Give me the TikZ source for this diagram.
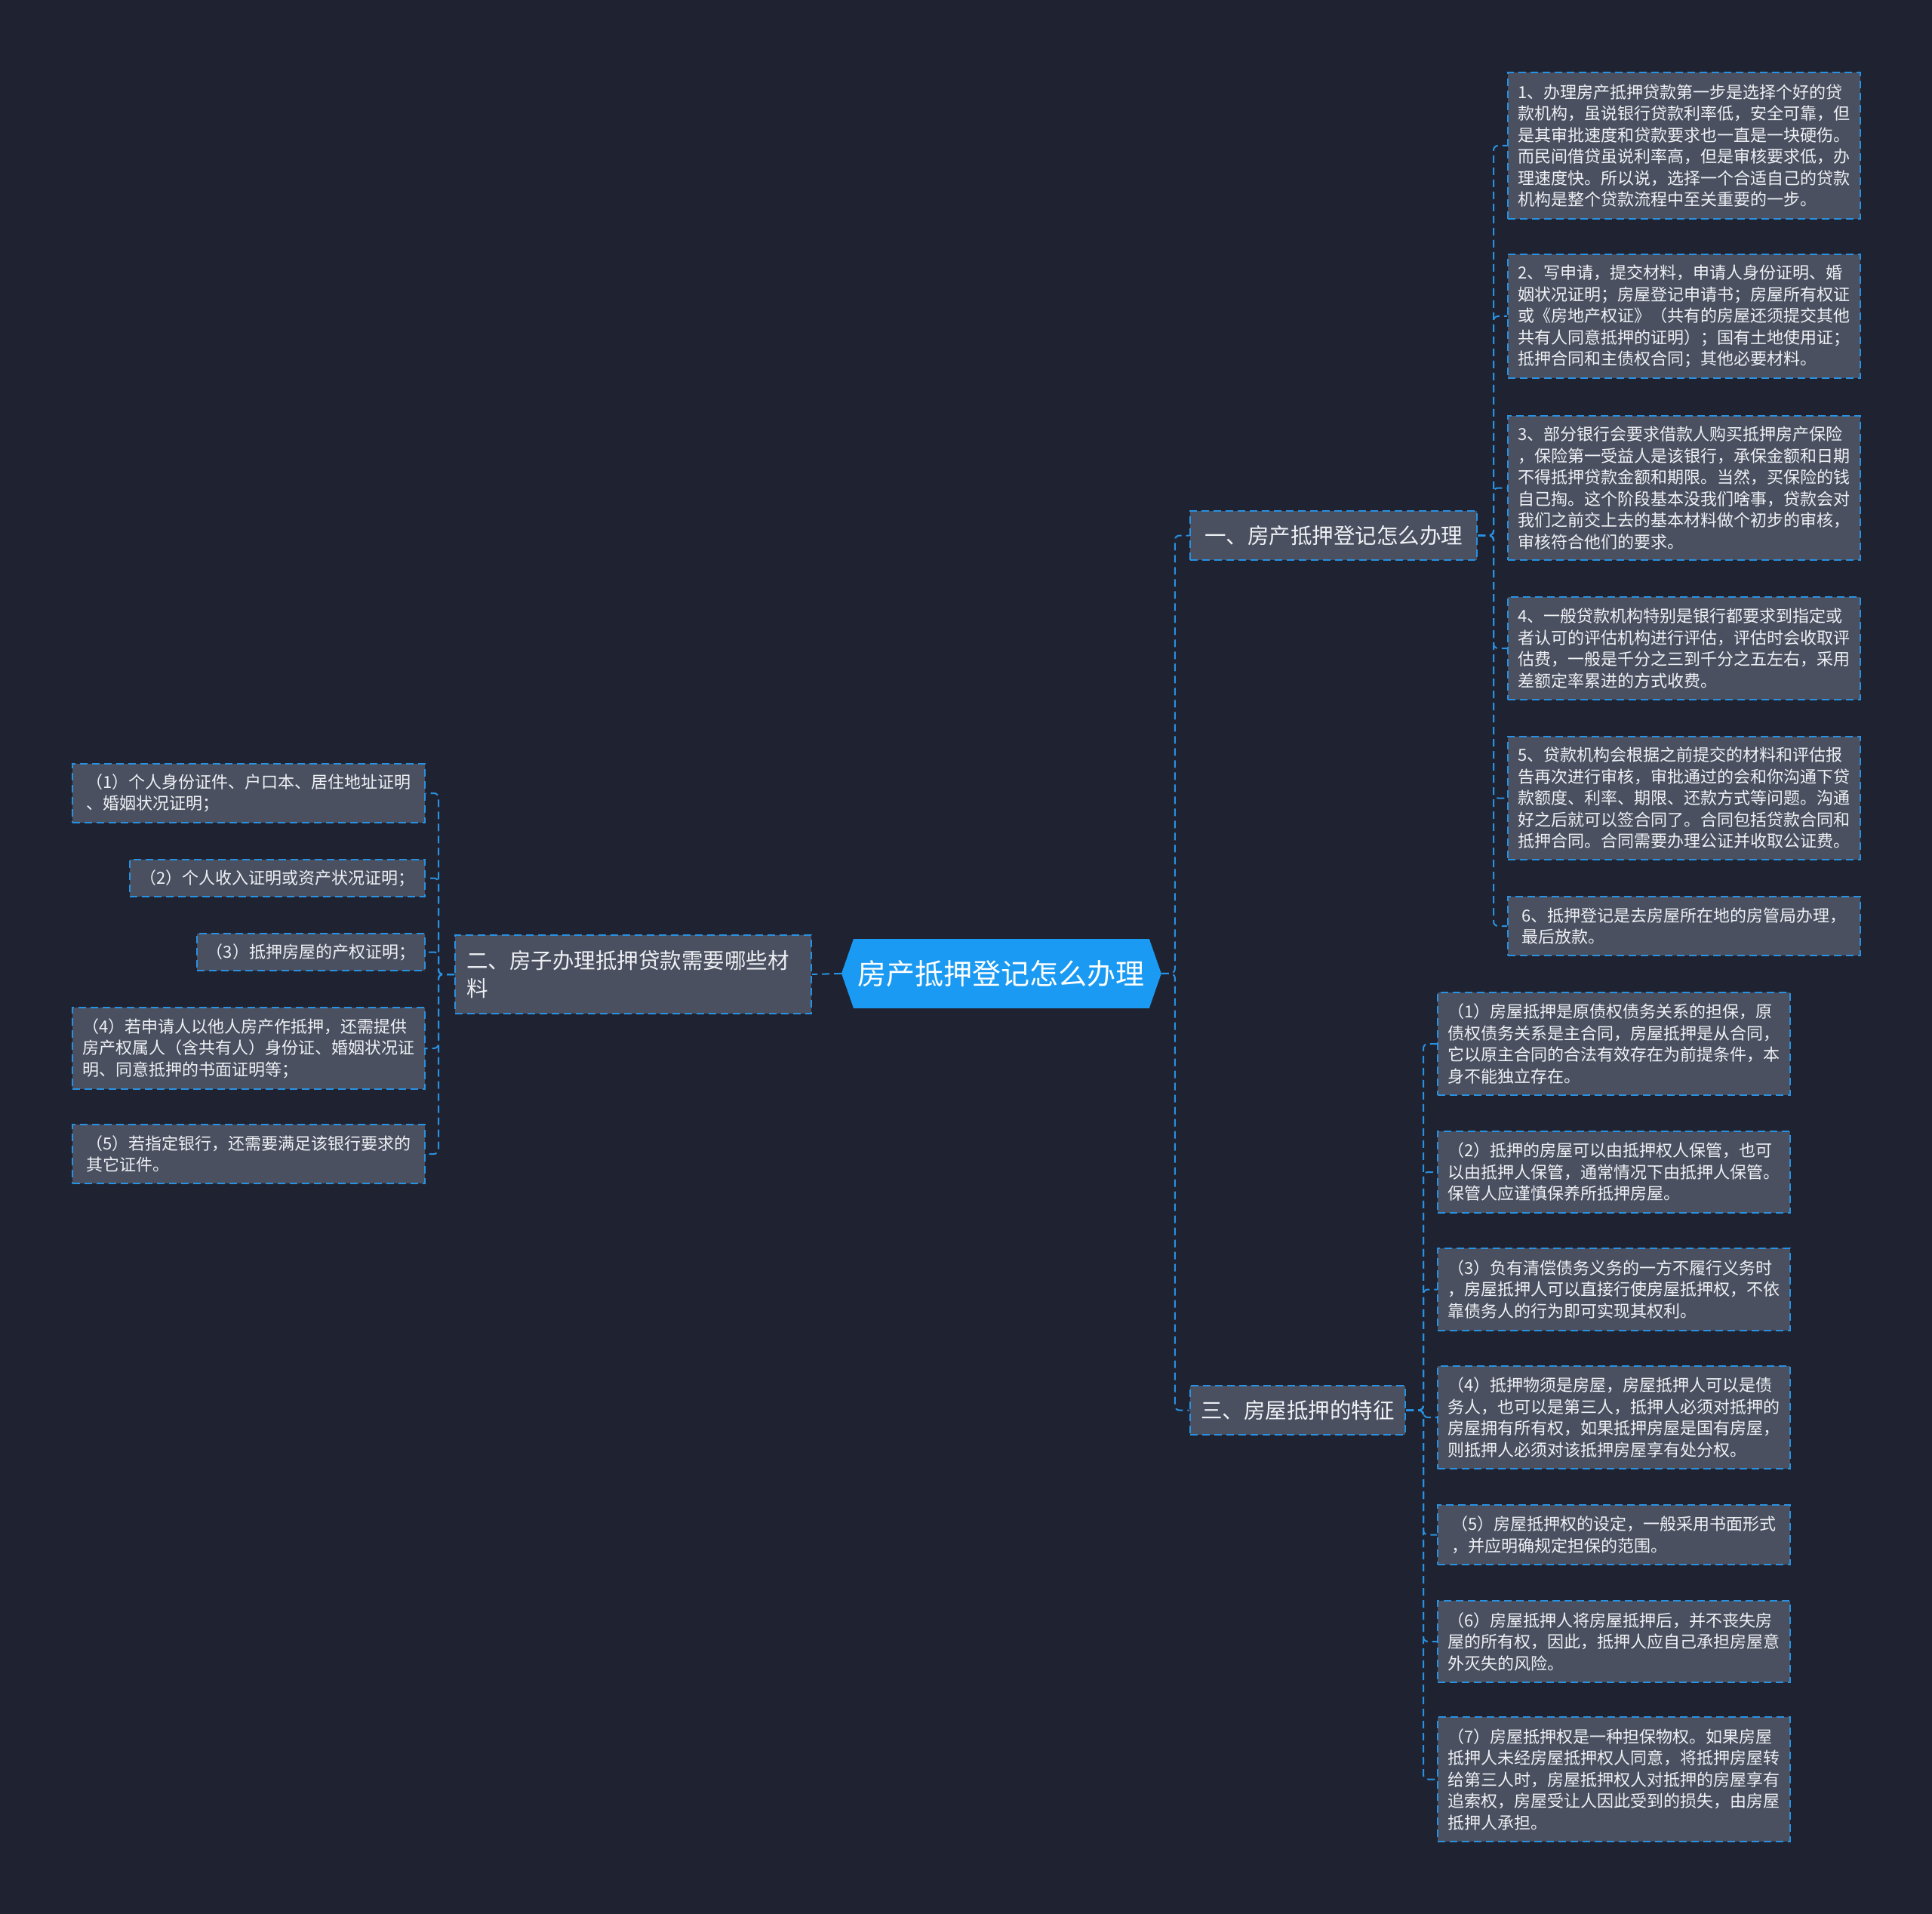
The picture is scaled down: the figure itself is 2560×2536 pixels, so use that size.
\documentclass[tikz,border=0pt]{standalone}
\usepackage{fontspec}
\newfontfamily\cjk{Noto Sans CJK SC}
\usetikzlibrary{backgrounds}
\definecolor{bgc}{RGB}{31,35,49}
\definecolor{boxc}{RGB}{74,80,96}
\definecolor{linec}{RGB}{40,145,225}
\definecolor{rootc}{RGB}{26,154,242}
\definecolor{txtc}{RGB}{238,240,244}
\begin{document}
\begin{tikzpicture}[x=0.5pt,y=-0.5pt,
  conn/.style={draw=linec, line width=1pt, dash pattern=on 5pt off 3pt, rounded corners=3pt},
  box/.style={draw=linec, line width=1pt, dash pattern=on 5pt off 3pt, fill=boxc, text=txtc,
    align=left, anchor=north west, inner xsep=0pt, inner ysep=2pt,
    font=\cjk\fontsize{11pt}{14.25pt}\selectfont},
  branch/.style={box, font=\cjk\fontsize{14.25pt}{18.75pt}\selectfont},
  rootnode/.style={anchor=north west, inner sep=0pt, text=white,
    minimum width=211.5pt, minimum height=45.5pt,
    font=\cjk\fontsize{19pt}{23pt}\selectfont}]

% root
\node[rootnode] (root) at (1115,1244) {房产抵押登记怎么办理};

% branches
\node[branch, minimum width=190pt, minimum height=32.5pt] (b1) at (1576,676) {一、房产抵押登记怎么办理};
\node[branch, inner xsep=7.5pt, text width=221pt, minimum height=52pt] (b2) at (602,1238) {二、房子办理抵押贷款需要哪些材\\料};
\node[branch, minimum width=142.5pt, minimum height=32.5pt] (b3) at (1576,1835) {三、房屋抵押的特征};

% branch 1 items
\node[box, minimum width=233.5pt, minimum height=97pt] (r1) at (1997,95) {1、办理房产抵押贷款第一步是选择个好的贷\\款机构，虽说银行贷款利率低，安全可靠，但\\是其审批速度和贷款要求也一直是一块硬伤。\\而民间借贷虽说利率高，但是审核要求低，办\\理速度快。所以说，选择一个合适自己的贷款\\机构是整个贷款流程中至关重要的一步。};
\node[box, minimum width=233.5pt, minimum height=82pt] (r2) at (1997,336) {2、写申请，提交材料，申请人身份证明、婚\\姻状况证明；房屋登记申请书；房屋所有权证\\或《房地产权证》（共有的房屋还须提交其他\\共有人同意抵押的证明）；国有土地使用证；\\抵押合同和主债权合同；其他必要材料。};
\node[box, minimum width=233.5pt, minimum height=95.5pt] (r3) at (1997,550) {3、部分银行会要求借款人购买抵押房产保险\\，保险第一受益人是该银行，承保金额和日期\\不得抵押贷款金额和期限。当然，买保险的钱\\自己掏。这个阶段基本没我们啥事，贷款会对\\我们之前交上去的基本材料做个初步的审核，\\审核符合他们的要求。};
\node[box, minimum width=233.5pt, minimum height=68pt] (r4) at (1997,790) {4、一般贷款机构特别是银行都要求到指定或\\者认可的评估机构进行评估，评估时会收取评\\估费，一般是千分之三到千分之五左右，采用\\差额定率累进的方式收费。};
\node[box, minimum width=233.5pt, minimum height=81.5pt] (r5) at (1997,975) {5、贷款机构会根据之前提交的材料和评估报\\告再次进行审核，审批通过的会和你沟通下贷\\款额度、利率、期限、还款方式等问题。沟通\\好之后就可以签合同了。合同包括贷款合同和\\抵押合同。合同需要办理公证并收取公证费。};
\node[box, minimum width=233.5pt, minimum height=39pt] (r6) at (1997,1187) {6、抵押登记是去房屋所在地的房管局办理，\\最后放款。};

% branch 3 items
\node[box, minimum width=233.5pt, minimum height=68pt] (t1) at (1904,1314) {（1）房屋抵押是原债权债务关系的担保，原\\债权债务关系是主合同，房屋抵押是从合同，\\它以原主合同的合法有效存在为前提条件，本\\身不能独立存在。};
\node[box, minimum width=233.5pt, minimum height=54pt] (t2) at (1904,1498) {（2）抵押的房屋可以由抵押权人保管，也可\\以由抵押人保管，通常情况下由抵押人保管。\\保管人应谨慎保养所抵押房屋。};
\node[box, minimum width=233.5pt, minimum height=54.5pt] (t3) at (1904,1653) {（3）负有清偿债务义务的一方不履行义务时\\，房屋抵押人可以直接行使房屋抵押权，不依\\靠债务人的行为即可实现其权利。};
\node[box, minimum width=233.5pt, minimum height=68pt] (t4) at (1904,1809) {（4）抵押物须是房屋，房屋抵押人可以是债\\务人，也可以是第三人，抵押人必须对抵押的\\房屋拥有所有权，如果抵押房屋是国有房屋，\\则抵押人必须对该抵押房屋享有处分权。};
\node[box, minimum width=233.5pt, minimum height=39.5pt] (t5) at (1904,1993) {（5）房屋抵押权的设定，一般采用书面形式\\，并应明确规定担保的范围。};
\node[box, minimum width=233.5pt, minimum height=54pt] (t6) at (1904,2120) {（6）房屋抵押人将房屋抵押后，并不丧失房\\屋的所有权，因此，抵押人应自己承担房屋意\\外灭失的风险。};
\node[box, minimum width=233.5pt, minimum height=82.5pt] (t7) at (1904,2274) {（7）房屋抵押权是一种担保物权。如果房屋\\抵押人未经房屋抵押权人同意，将抵押房屋转\\给第三人时，房屋抵押权人对抵押的房屋享有\\追索权，房屋受让人因此受到的损失，由房屋\\抵押人承担。};

% branch 2 items
\node[box, minimum width=233.5pt, minimum height=39pt] (l1) at (95,1011) {（1）个人身份证件、户口本、居住地址证明\\、婚姻状况证明；};
\node[box, minimum width=195.5pt, minimum height=24.5pt] (l2) at (171,1138) {（2）个人收入证明或资产状况证明；};
\node[box, minimum width=151pt, minimum height=24.5pt] (l3) at (260,1236) {（3）抵押房屋的产权证明；};
\node[box, minimum width=233.5pt, minimum height=54pt] (l4) at (95,1334) {（4）若申请人以他人房产作抵押，还需提供\\房产权属人（含共有人）身份证、婚姻状况证\\明、同意抵押的书面证明等；};
\node[box, minimum width=233.5pt, minimum height=39pt] (l5) at (95,1489) {（5）若指定银行，还需要满足该银行要求的\\其它证件。};

% background and root shape
\begin{scope}[on background layer]
  \fill[bgc] (0,0) rectangle (2560,2536);
  \fill[rootc] (root.west) -- ([xshift=8pt]root.north west) -- ([xshift=-8pt]root.north east)
    -- (root.east) -- ([xshift=-8pt]root.south east) -- ([xshift=8pt]root.south west) -- cycle;
\end{scope}
\useasboundingbox (0,0) rectangle (2560,2536);

% connectors
\draw[conn] (root.west) -- (b2.east);
\draw[conn] (root.east) -- ++(18,0) |- (b1.west);
\draw[conn] (root.east) -- ++(18,0) |- (b3.west);
\foreach \n in {r1,r2,r3,r4,r5,r6}
  \draw[conn] (b1.east) -- ++(21,0) |- (\n.west);
\foreach \n in {t1,t2,t3,t4,t5,t6,t7}
  \draw[conn] (b3.east) -- ++(23,0) |- (\n.west);
\foreach \n in {l1,l2,l3,l4,l5}
  \draw[conn] (b2.west) -- ++(-21,0) |- (\n.east);
\end{tikzpicture}
\end{document}
